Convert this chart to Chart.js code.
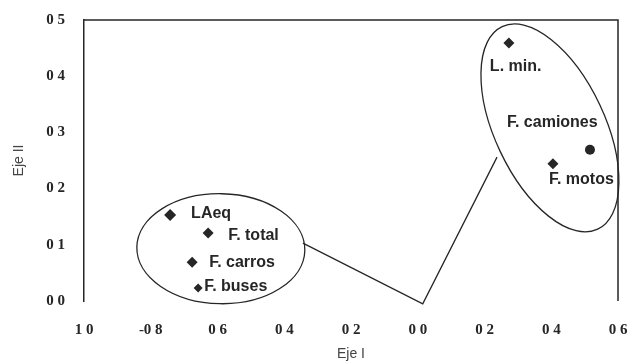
<!DOCTYPE html>
<html>
<head>
<meta charset="utf-8">
<script src="https://cdn.jsdelivr.net/npm/chart.js@4.4.1/dist/chart.umd.min.js"></script>
<style>
  html, body { margin: 0; padding: 0; background: #fff; }
  #wrap { width: 631px; height: 364px; }
</style>
</head>
<body>
<div id="wrap"><canvas id="myChart" width="631" height="364"></canvas></div>
<script>
// ---- data
const names = ['LAeq', 'F. total', 'F. carros', 'F. buses', 'L. min.', 'F. camiones', 'F. motos'];
const ejeI  = [-0.742, -0.628, -0.676, -0.658, 0.273, 0.516, 0.405];
const ejeII = [0.153, 0.121, 0.069, 0.023, 0.459, 0.269, 0.244];

// tick labels as printed (the scan lost the dots and most minus signs)
const xTickLabels = ['1 0', '-0 8', '0 6', '0 4', '0 2', '0 0', '0 2', '0 4', '0 6'];
const yTickLabels = ['0 0', '0 1', '0 2', '0 3', '0 4', '0 5'];

// group outlines and the connecting line, in axis units
const groupCentersX = [-0.59, 0.396];
const groupCentersY = [0.093, 0.308];
const linkX = [-0.344, 0.015, 0.2375];
const linkY = [0.103, -0.005, 0.256];

// ---- looks
const ink = '#262626';
const pointShapes = ['rectRot', 'rectRot', 'rectRot', 'rectRot', 'rectRot', 'circle', 'rectRot'];
const pointSizes = [6, 5.5, 5.5, 4.5, 5.5, 5, 5.5];
const labelOffsets = [[21, -1], [20, 3], [17, 0], [6, -1], [-19, 24], [-83, -27], [-4, 16]];
const groupShapes = [
  { rx: 84, ry: 55, rot: 0.02 },
  { rx: 112, ry: 55, rot: 1.13 }
];

const extras = {
  id: 'extras',
  beforeDatasetsDraw(chart) {
    const { ctx, chartArea: a, scales: { x, y } } = chart;
    ctx.save();
    ctx.strokeStyle = ink;
    ctx.lineWidth = 1.5;
    // top and right frame
    ctx.beginPath();
    ctx.moveTo(a.left, a.top);
    ctx.lineTo(a.right, a.top);
    ctx.lineTo(a.right, a.bottom);
    ctx.stroke();
    // ellipses
    ctx.lineWidth = 1.3;
    groupShapes.forEach(function (g, i) {
      ctx.beginPath();
      ctx.ellipse(x.getPixelForValue(groupCentersX[i]), y.getPixelForValue(groupCentersY[i]), g.rx, g.ry, g.rot, 0, Math.PI * 2);
      ctx.stroke();
    });
    // link line
    ctx.beginPath();
    linkX.forEach(function (v, i) {
      const px = x.getPixelForValue(v), py = y.getPixelForValue(linkY[i]);
      if (i === 0) ctx.moveTo(px, py); else ctx.lineTo(px, py);
    });
    ctx.stroke();
    ctx.restore();
  },
  afterDatasetsDraw(chart) {
    const { ctx, scales: { x, y } } = chart;
    ctx.save();
    ctx.fillStyle = ink;
    ctx.font = 'bold 16px "Liberation Sans", Arial, sans-serif';
    ctx.textBaseline = 'middle';
    ctx.textAlign = 'left';
    names.forEach(function (n, i) {
      const px = x.getPixelForValue(ejeI[i]), py = y.getPixelForValue(ejeII[i]);
      ctx.fillText(n, px + labelOffsets[i][0], py + labelOffsets[i][1]);
    });
    ctx.restore();
  }
};

const tickFont = { family: '"Liberation Serif", "DejaVu Serif", serif', size: 15, weight: 'bold' };
const titleFont = { family: '"Liberation Sans", Arial, sans-serif', size: 14 };

const ctx = document.getElementById('myChart');
const myChart = new Chart(ctx, {
  type: 'scatter',
  data: {
    datasets: [{
      label: 'Variables',
      data: ejeI.map(function (v, i) { return { x: v, y: ejeII[i] }; }),
      backgroundColor: ink,
      borderColor: ink,
      borderWidth: 0,
      pointStyle: pointShapes,
      pointRadius: pointSizes,
      pointHoverRadius: pointSizes
    }]
  },
  options: {
    responsive: false,
    animation: false,
    layout: { padding: { top: 20, right: 13, left: 0, bottom: 0 } },
    plugins: { legend: { display: false }, tooltip: { enabled: false } },
    scales: {
      x: {
        min: -1, max: 0.6,
        grid: { display: false, drawTicks: false },
        border: { display: false },
        ticks: {
          stepSize: 0.2, padding: 20, color: ink, font: tickFont, maxRotation: 0,
          callback: function (v, i) { return xTickLabels[i]; }
        },
        title: { display: true, text: 'Eje I', color: '#444', font: titleFont, padding: { top: 0, bottom: 1 } },
        afterFit: function (s) { s.height = 63; s.paddingLeft = 0; s.paddingRight = 0; }
      },
      y: {
        min: 0, max: 0.5,
        grid: { display: false, drawTicks: false },
        border: { display: true, color: ink, width: 1.5 },
        ticks: {
          stepSize: 0.1, padding: 19, color: ink, font: tickFont,
          callback: function (v, i) { return yTickLabels[i]; }
        },
        title: { display: true, text: 'Eje II', color: '#444', font: titleFont, padding: { top: 11, bottom: 0 } },
        afterFit: function (s) { s.width = 84; s.paddingTop = 0; s.paddingBottom = 0; }
      }
    }
  },
  plugins: [extras]
});
</script>
</body>
</html>
